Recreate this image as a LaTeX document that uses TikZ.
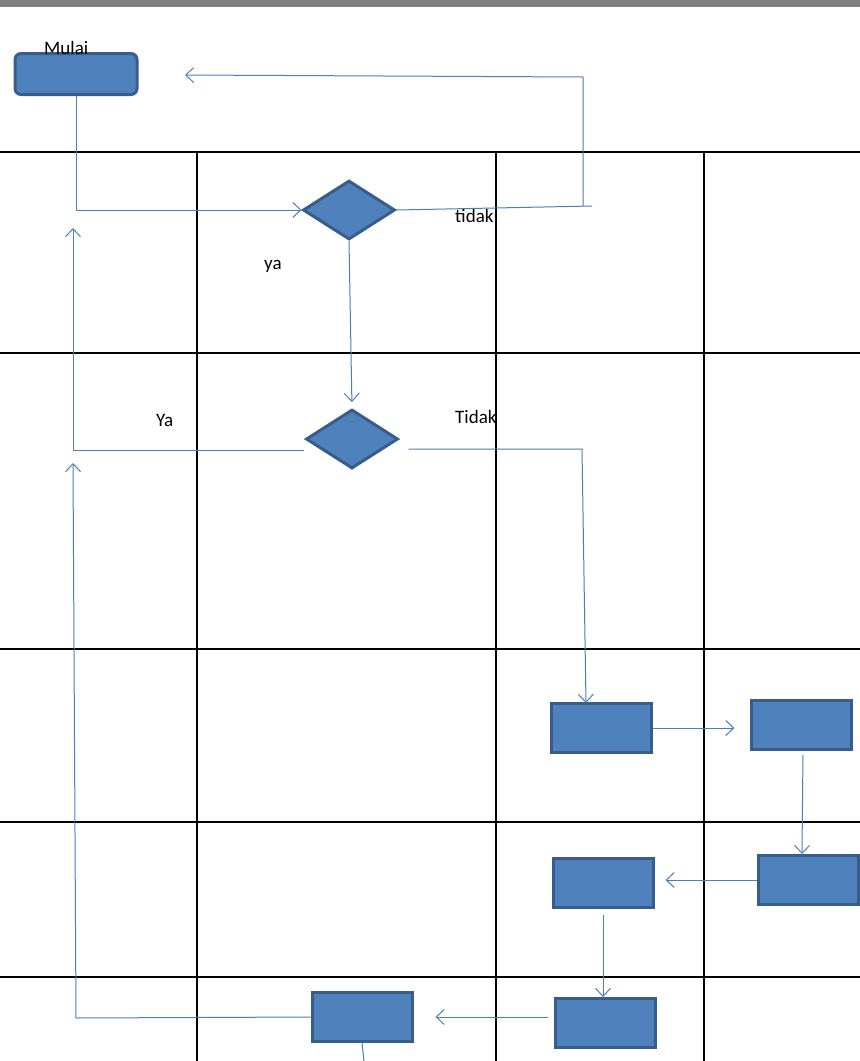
\documentclass[tikz,border=0pt]{standalone}
\usepackage{fontspec}
\setmainfont{Carlito}
\usepackage{tikz}
\usetikzlibrary{arrows.meta}
\usetikzlibrary{shapes.geometric}
\usetikzlibrary{calc}
\definecolor{boxfill}{RGB}{79,129,189}
\definecolor{boxline}{RGB}{56,93,138}
\definecolor{flow}{RGB}{74,126,187}
\begin{document}
\begin{tikzpicture}[x=1pt, y=-1pt]
      \tikzset{
        grid line/.style={line width=2pt, black},
        procbox/.style={draw=boxline, fill=boxfill, line width=3pt,
            minimum width=100pt, minimum height=49pt, inner sep=0pt},
        decbox/.style={diamond, draw=boxline, fill=boxfill, line width=3pt,
            minimum width=92pt, minimum height=59pt, inner sep=0pt},
        flow line/.style={flow, line width=1pt},
        flow arrow/.style={flow line, -{Straight Barb[length=8pt, width=15pt]}},
        lbl/.style={font=\fontsize{19}{22}\selectfont, inner sep=0pt, anchor=base west}
      }
      \def\W{860} % page width
      \def\H{1061} % page height
      \useasboundingbox (0,0) rectangle (\W,\H);
      \fill[gray] (0,0) rectangle (\W,7); % top band

      % Grid
      \foreach \y in {152,353,649,822,977}
        \draw[grid line] (0,\y) -- (\W,\y);
      \foreach \x in {197,496,704}
        \draw[grid line] (\x,152) -- (\x,\H);

      % Shapes
      \node[procbox, rounded corners=6pt, minimum width=122pt, minimum height=41pt] (start) at (76,74) {};
      \node[lbl] at (44,54) {Mulai};
      \node[decbox] (d1) at (349,210) {};
      \node[decbox] (d2) at (352,439) {};
      \node[procbox] (ra) at (601,728) {};
      \node[procbox] (rb) at (801,725) {};
      \node[procbox] (rc) at (808,880) {};
      \node[procbox] (rd) at (603,883) {};
      \node[procbox] (re) at (605,1023) {};
      \node[procbox] (rf) at (362,1017) {};

      % Labels
      \node[lbl] at (455,222) {tidak};
      \node[lbl] at (264,269) {ya};
      \node[lbl] at (156,426) {Ya};
      \node[lbl] at (455,423) {Tidak};

      % Helper points
      \coordinate (noA) at (592,206);
      \coordinate (noB) at (583,77);
      \coordinate (noC) at (185,75);
      \coordinate (yaL) at (73,228);
      \coordinate (tdkA) at (582,449);
      \coordinate (tdkB) at (586,703);
      \coordinate (backA) at (76,1018);
      \coordinate (backB) at (73,463);
      \coordinate (down) at (364,\H);

      % Connectors
      \draw[flow arrow] (start.south) |- (d1.west);
      \draw[flow line] (d1.east) -- (noA);
      \draw[flow arrow] (noB |- noA) -- (noB) -- (noC);
      \draw[flow arrow, shorten >=6pt] (d1.south) -- (d2.north);
      \draw[flow arrow] ($(d2.west)+(-1,11)$) -| (yaL);
      \draw[flow arrow] ($(d2.east)+(9,10)$) -- (tdkA) -- (tdkB);
      \draw[flow arrow, shorten >=15pt] (ra.east) -- (ra.east -| rb.west);
      \draw[flow arrow, shorten <=4pt] ($(rb.south)+(2,0)$) -- ($(rc.north)+(-6,0)$);
      \draw[flow arrow, shorten >=11pt] (rc.west) -- (rc.west -| rd.east);
      \draw[flow arrow, shorten <=6pt] (rd.south) -- (rd.south |- re.north);
      \draw[flow arrow, shorten <=6pt, shorten >=22pt] (re.west |- rf.east) -- (rf.east);
      \draw[flow arrow] (rf.west) -- (backA) -- (backB);
      \draw[flow line] (rf.south) -- (down);
\end{tikzpicture}
\end{document}
